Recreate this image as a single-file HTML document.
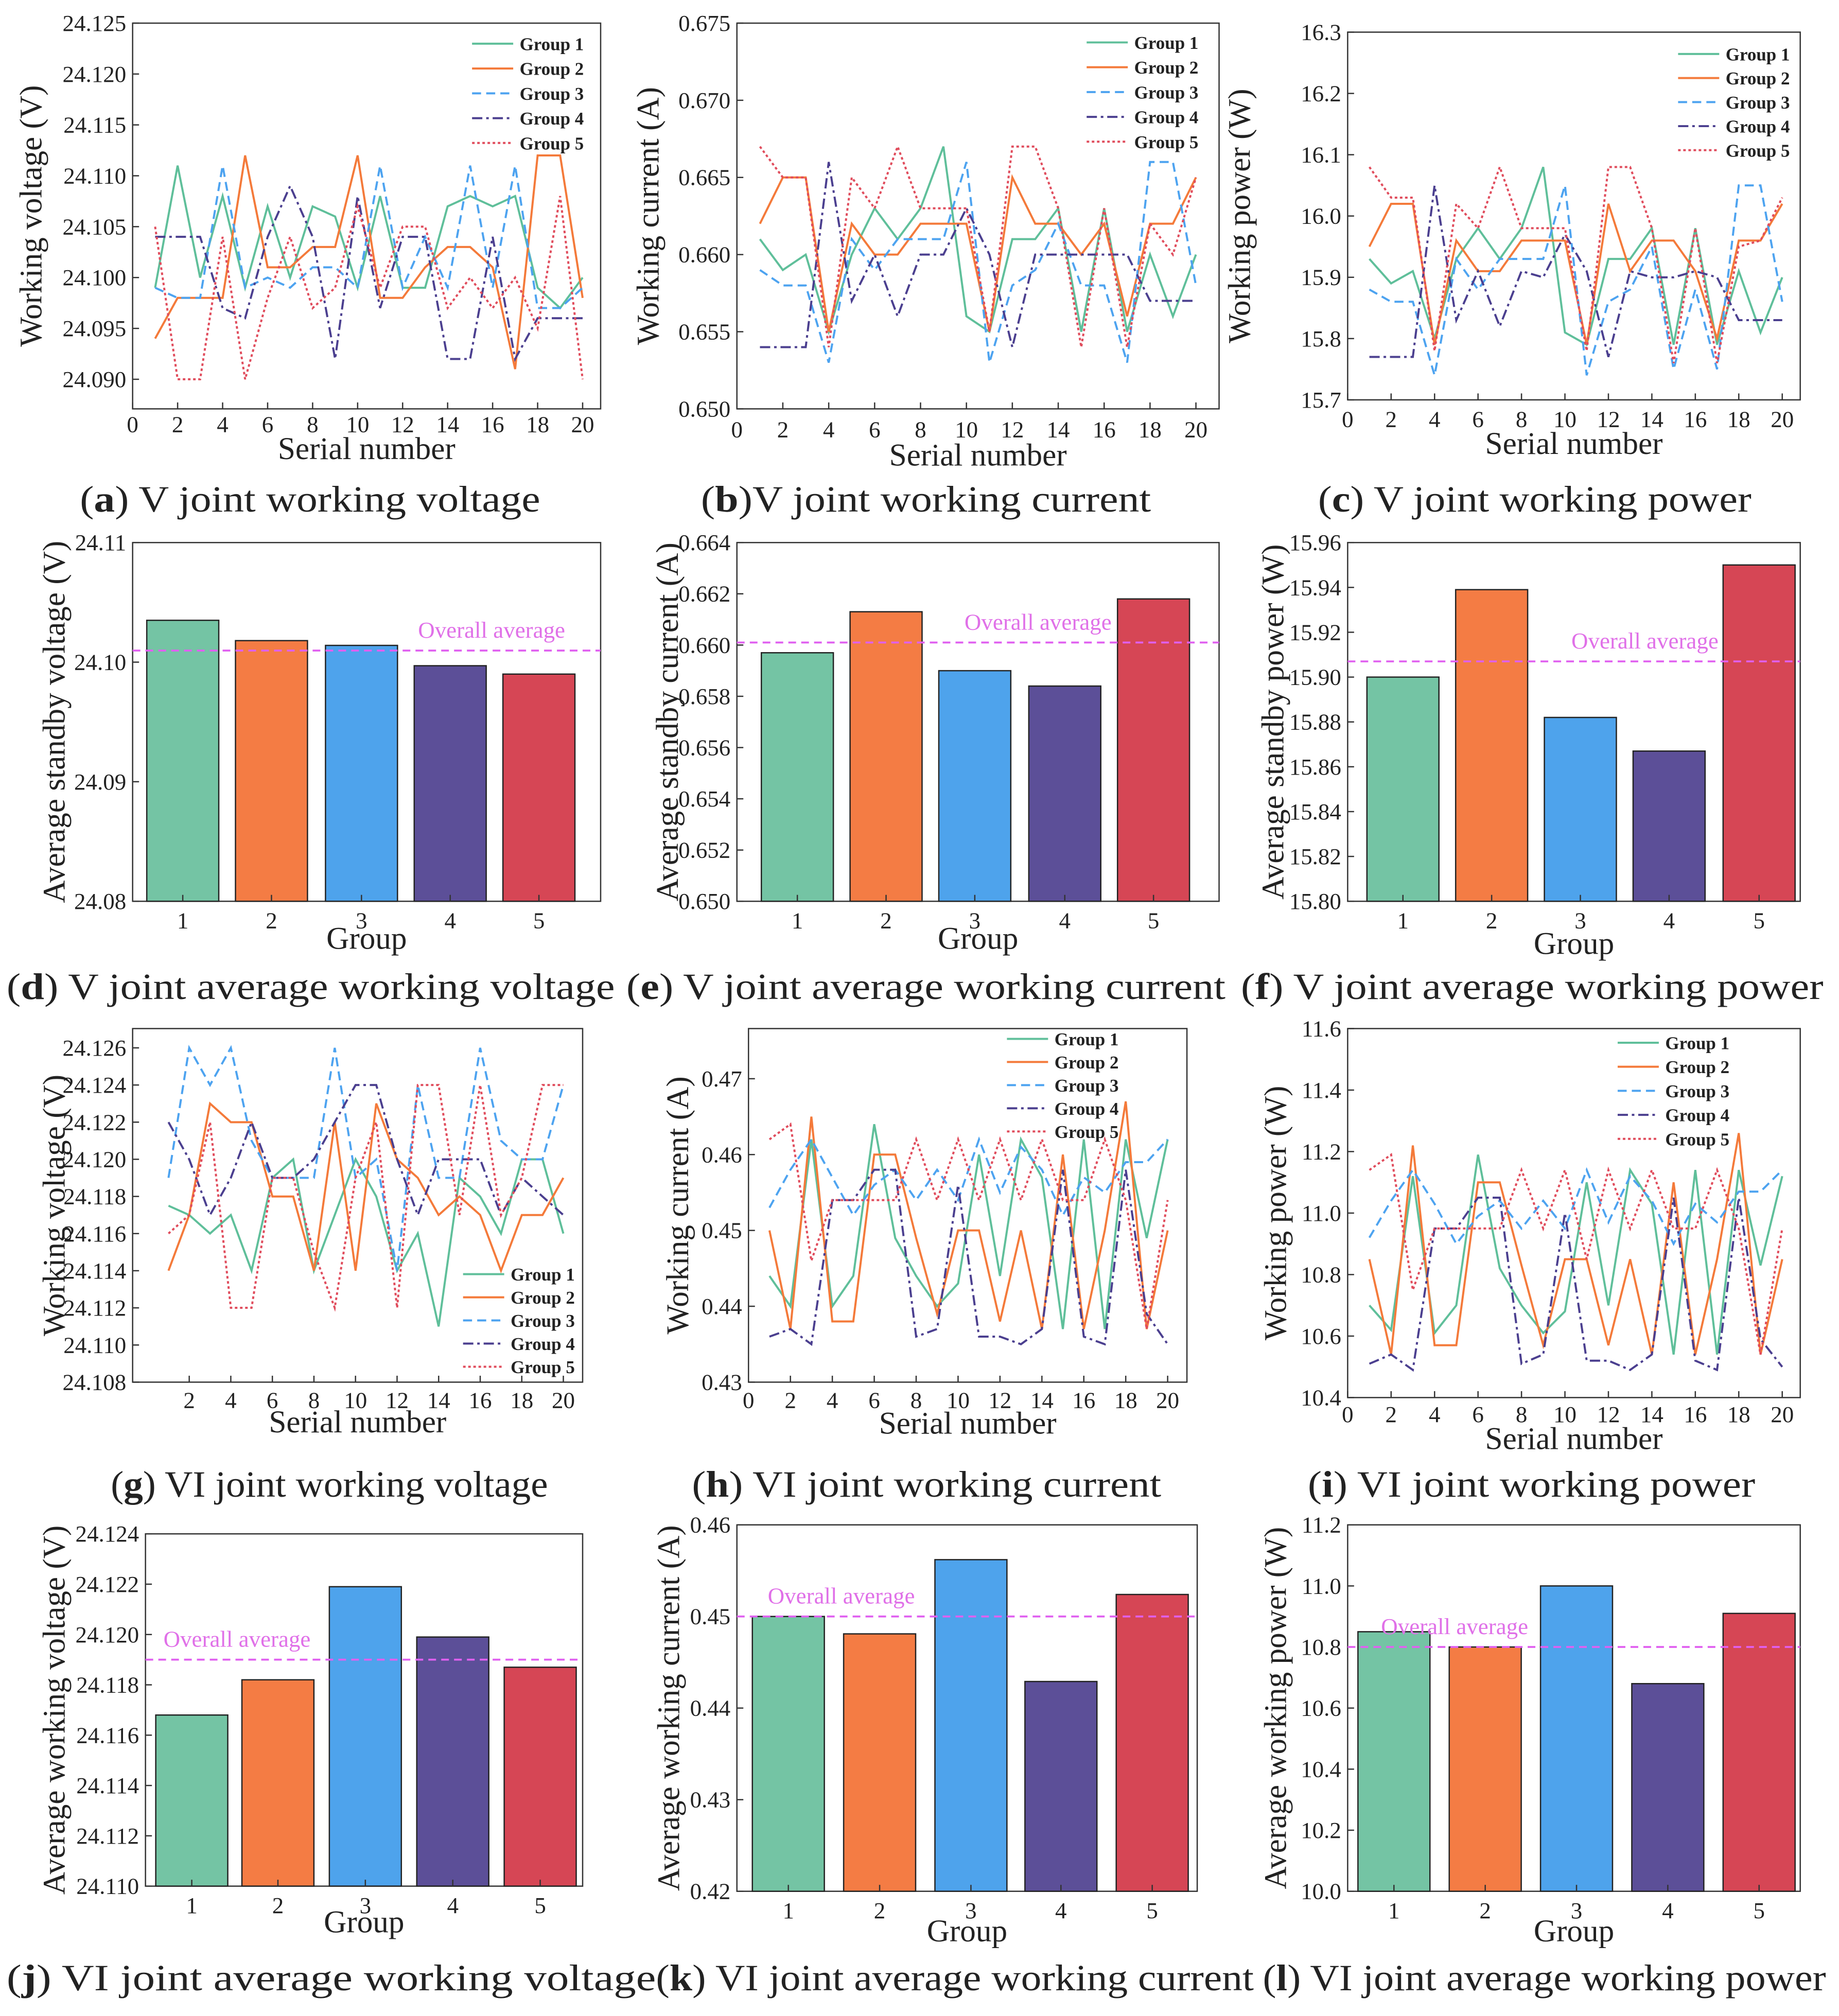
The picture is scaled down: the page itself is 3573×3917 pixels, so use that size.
<!DOCTYPE html>
<html><head><meta charset="utf-8"><style>
html,body{margin:0;padding:0;background:#fff}
svg{display:block}
text{font-family:"Liberation Serif",serif;fill:#222}
</style></head><body>
<svg id="fig" width="3573" height="3917" viewBox="0 0 1430 1568" xmlns="http://www.w3.org/2000/svg"></svg>
<script>
const groups=["Group 1","Group 2","Group 3","Group 4","Group 5"];
const barCats=[1,2,3,4,5];
const serial=[1,2,3,4,5,6,7,8,9,10,11,12,13,14,15,16,17,18,19,20];
// (a) voltage
const aG1=[24.099,24.111,24.100,24.108,24.099,24.107,24.100,24.107,24.106,24.099,24.108,24.099,24.099,24.107,24.108,24.107,24.108,24.099,24.097,24.100];
const aG2=[24.094,24.098,24.098,24.098,24.112,24.101,24.101,24.103,24.103,24.112,24.098,24.098,24.101,24.103,24.103,24.101,24.091,24.112,24.112,24.098];
const aG3=[24.099,24.098,24.098,24.111,24.099,24.100,24.099,24.101,24.101,24.099,24.111,24.099,24.104,24.099,24.111,24.099,24.111,24.097,24.097,24.099];
const aG4=[24.104,24.104,24.104,24.097,24.096,24.104,24.109,24.104,24.092,24.108,24.097,24.104,24.104,24.092,24.092,24.104,24.092,24.096,24.096,24.096];
const aG5=[24.105,24.090,24.090,24.104,24.090,24.098,24.104,24.097,24.099,24.107,24.099,24.105,24.105,24.097,24.100,24.097,24.100,24.095,24.108,24.090];
// (b) current
const bG1=[.661,.659,.660,.655,.660,.663,.661,.663,.667,.656,.655,.661,.661,.663,.655,.663,.655,.660,.656,.660];
const bG2=[.662,.665,.665,.655,.662,.660,.660,.662,.662,.662,.655,.665,.662,.662,.660,.662,.656,.662,.662,.665];
const bG3=[.659,.658,.658,.653,.661,.659,.661,.661,.661,.666,.653,.658,.659,.662,.658,.658,.653,.666,.666,.658];
const bG4=[.654,.654,.654,.666,.657,.660,.656,.660,.660,.663,.660,.654,.660,.660,.660,.660,.660,.657,.657,.657];
const bG5=[.667,.665,.665,.654,.665,.663,.667,.663,.663,.663,.655,.667,.667,.663,.654,.663,.654,.662,.660,.665];
// (c) power
const cG1=[15.93,15.89,15.91,15.80,15.93,15.98,15.93,15.98,16.08,15.81,15.79,15.93,15.93,15.98,15.79,15.98,15.79,15.91,15.81,15.90];
const cG2=[15.95,16.02,16.02,15.79,15.96,15.91,15.91,15.96,15.96,15.96,15.79,16.02,15.91,15.96,15.96,15.91,15.80,15.96,15.96,16.02];
const cG3=[15.88,15.86,15.86,15.74,15.93,15.88,15.93,15.93,15.93,16.05,15.74,15.86,15.88,15.95,15.75,15.88,15.75,16.05,16.05,15.86];
const cG4=[15.77,15.77,15.77,16.05,15.83,15.91,15.82,15.91,15.90,15.97,15.91,15.77,15.91,15.90,15.90,15.91,15.90,15.83,15.83,15.83];
const cG5=[16.08,16.03,16.03,15.78,16.02,15.98,16.08,15.98,15.98,15.98,15.78,16.08,16.08,15.98,15.76,15.98,15.76,15.95,15.96,16.03];
// (d)(e)(f) averages
const dVals=[24.1035,24.1018,24.1014,24.0997,24.0990]; const dAvg=24.10097;
const eVals=[0.6597,0.6613,0.6590,0.6584,0.6618]; const eAvg=0.6601;
const fVals=[15.900,15.939,15.882,15.867,15.950]; const fAvg=15.907;
// (g) VI voltage
const gG1=[24.1175,24.117,24.116,24.117,24.114,24.119,24.120,24.114,24.117,24.120,24.118,24.114,24.116,24.111,24.119,24.118,24.116,24.120,24.120,24.116];
const gG2=[24.114,24.117,24.123,24.122,24.122,24.118,24.118,24.114,24.122,24.114,24.123,24.120,24.119,24.117,24.118,24.117,24.114,24.117,24.117,24.119];
const gG3=[24.119,24.126,24.124,24.126,24.121,24.119,24.119,24.119,24.126,24.119,24.120,24.114,24.124,24.119,24.119,24.126,24.121,24.120,24.120,24.124];
const gG4=[24.122,24.120,24.117,24.119,24.122,24.119,24.119,24.120,24.122,24.124,24.124,24.120,24.117,24.120,24.120,24.120,24.117,24.119,24.118,24.117];
const gG5=[24.116,24.117,24.122,24.112,24.112,24.119,24.119,24.115,24.112,24.119,24.122,24.112,24.124,24.124,24.117,24.124,24.117,24.119,24.124,24.124];
// (h) VI current
const hG1=[.444,.440,.462,.440,.444,.464,.449,.444,.440,.443,.460,.444,.462,.457,.437,.462,.437,.462,.449,.462];
const hG2=[.450,.437,.465,.438,.438,.460,.460,.449,.439,.450,.450,.438,.450,.437,.460,.437,.450,.467,.437,.450];
const hG3=[.453,.458,.462,.457,.452,.456,.458,.454,.458,.454,.462,.455,.461,.458,.452,.457,.455,.459,.459,.462];
const hG4=[.436,.437,.435,.454,.454,.458,.458,.436,.437,.456,.436,.436,.435,.437,.458,.436,.435,.458,.439,.435];
const hG5=[.462,.464,.446,.454,.454,.454,.454,.462,.454,.462,.454,.462,.454,.462,.454,.454,.462,.454,.437,.454];
// (i) VI power
const iG1=[10.70,10.62,11.12,10.61,10.70,11.19,10.82,10.70,10.61,10.68,11.10,10.70,11.14,11.03,10.54,11.14,10.54,11.14,10.83,11.12];
const iG2=[10.85,10.54,11.22,10.57,10.57,11.10,11.10,10.83,10.57,10.85,10.85,10.57,10.85,10.54,11.10,10.54,10.85,11.26,10.54,10.85];
const iG3=[10.92,11.04,11.14,11.03,10.90,10.99,11.04,10.95,11.04,10.95,11.14,10.97,11.12,11.04,10.90,11.03,10.97,11.07,11.07,11.14];
const iG4=[10.51,10.54,10.49,10.95,10.95,11.05,11.05,10.51,10.54,11.00,10.52,10.52,10.49,10.54,11.05,10.52,10.49,11.05,10.59,10.50];
const iG5=[11.14,11.19,10.75,10.95,10.95,10.95,10.95,11.14,10.95,11.14,10.85,11.14,10.95,11.14,10.95,10.95,11.14,10.95,10.54,10.95];
// (j)(k)(l) averages
const jVals=[24.1168,24.1182,24.1219,24.1199,24.1187]; const jAvg=24.1190;
const kVals=[0.4500,0.4481,0.4562,0.4429,0.4524]; const kAvg=0.4500;
const lVals=[10.85,10.80,11.00,10.68,10.91]; const lAvg=10.80;

const NS="http://www.w3.org/2000/svg";
const svg=document.getElementById('fig');
const lineColors=["#5fbf9a","#f47a3a","#4da3f0","#4b3f8f","#e04c5c"];
const dashes=["","","7,4","8,3,2,3","2,2"];
const barColors=["#74c4a4","#f47c44","#4ea3ec","#5c4f98","#d64655"];
function el(tag,attrs,parent){const e=document.createElementNS(NS,tag);for(const k in attrs)e.setAttribute(k,attrs[k]);(parent||svg).appendChild(e);return e;}
function txt(s,attrs,parent){const t=el('text',attrs,parent);t.textContent=s;return t;}
function lin(v,d0,d1,p0,p1){return p0+(v-d0)/(d1-d0)*(p1-p0);}

function axesFrame(g,c){
  el('rect',{x:c.L,y:c.T,width:c.R-c.L,height:c.B-c.T,fill:'none',stroke:'#333','stroke-width':1},g);
  for(let v=c.yt0;v<=c.yt1+1e-9;v+=c.yst){
    const y=lin(v,c.ya,c.yb,c.pya,c.pyb);
    el('line',{x1:c.L,x2:c.L+5,y1:y,y2:y,stroke:'#333'},g);
    const t=txt(v.toFixed(c.dec),{x:c.L-5,y:y+6,'text-anchor':'end','font-size':18},g);
    
    
  }
  const yl=txt(c.ylab,{x:0,y:0,'text-anchor':'middle','font-size':24.5,transform:`translate(${c.ylx},${(c.T+c.B)/2}) rotate(-90)`},g);
  
  
}

function linePanel(name,c,series){
  const g=el('g',{});
  
  
  axesFrame(g,c);
  const xs=v=>lin(v,0,20,c.x0,c.x20);
  for(let v=c.xt0;v<=20;v+=2){
    const x=xs(v);
    el('line',{x1:x,x2:x,y1:c.B,y2:c.B-5,stroke:'#333'},g);
    const t=txt(String(v),{x:x,y:c.xty,'text-anchor':'middle','font-size':18},g);
    
    
  }
  const xl=txt('Serial number',{x:(c.L+c.R)/2,y:c.xly,'text-anchor':'middle','font-size':24.5},g);
  
  
  series.forEach((s,i)=>{
    const pts=s.map((v,k)=>xs(serial[k]).toFixed(1)+','+lin(v,c.ya,c.yb,c.pya,c.pyb).toFixed(1)).join(' ');
    const p=el('polyline',{points:pts,fill:'none',stroke:lineColors[i],'stroke-width':1.6,'stroke-dasharray':dashes[i]},g);
    
    
  });
  groups.forEach((n,i)=>{
    const y=c.lgy+i*c.lgs;
    const l=el('line',{x1:c.lgx,x2:c.lgx+32,y1:y,y2:y,stroke:lineColors[i],'stroke-width':1.6,'stroke-dasharray':dashes[i]},g);
    
    
    const t=txt(n,{x:c.lgx+37,y:y+5,'font-size':14,'font-weight':'bold'},g);
    
    
  });
}

function barPanel(name,c,vals,avg,cx){
  const g=el('g',{});
  
  
  axesFrame(g,c);
  vals.forEach((v,i)=>{
    const x=cx[i];
    const y=lin(v,c.ya,c.yb,c.pya,c.pyb);
    const r=el('rect',{x:x-28,y:y,width:56,height:c.B-y,fill:barColors[i],stroke:'#222','stroke-width':1},g);
    
    
    el('line',{x1:x,x2:x,y1:c.B,y2:c.B-5,stroke:'#333'},g);
    const t=txt(String(barCats[i]),{x:x,y:c.B+21,'text-anchor':'middle','font-size':18},g);
    
    
  });
  const ay=lin(avg,c.ya,c.yb,c.pya,c.pyb);
  const al=el('line',{x1:c.L,x2:c.R,y1:ay,y2:ay,stroke:'#e060f0','stroke-width':1.5,'stroke-dasharray':'6,4'},g);
  
  
  const at=txt('Overall average',{x:c.avx,y:ay-10,'font-size':18,style:'fill:#e070e8'},g);
  
  
  const xl=txt('Group',{x:(c.L+c.R)/2,y:c.xly,'text-anchor':'middle','font-size':24.5},g);
  
  
}

linePanel('panel-a-voltage',{L:103,R:467,T:18,B:318,x0:103,x20:453,ya:24.125,yb:24.090,pya:18,pyb:295,yt0:24.090,yt1:24.125,yst:0.005,dec:3,ylab:'Working voltage (V)',ylx:32,xt0:0,xty:336,xly:357,lgx:367,lgy:34,lgs:19.3},[aG1,aG2,aG3,aG4,aG5]);
linePanel('panel-b-current',{L:573,R:948,T:18,B:318,x0:573,x20:930,ya:0.675,yb:0.650,pya:18,pyb:318,yt0:0.650,yt1:0.675,yst:0.005,dec:3,ylab:'Working current (A)',ylx:512,xt0:0,xty:340,xly:362,lgx:845,lgy:33,lgs:19.3},[bG1,bG2,bG3,bG4,bG5]);
linePanel('panel-c-power',{L:1048,R:1400,T:25,B:311,x0:1048,x20:1386,ya:16.3,yb:15.7,pya:25,pyb:311,yt0:15.7,yt1:16.3,yst:0.1,dec:1,ylab:'Working power (W)',ylx:972,xt0:0,xty:332,xly:353,lgx:1305,lgy:42,lgs:18.7},[cG1,cG2,cG3,cG4,cG5]);

barPanel('panel-d-avg-voltage',{L:103,R:467,T:422,B:701,ya:24.08,yb:24.11,pya:701,pyb:422,yt0:24.08,yt1:24.11,yst:0.01,dec:2,ylab:'Average standby voltage (V)',ylx:50,xly:738,avx:325},dVals,dAvg,[142,211,281,350,419]);
barPanel('panel-e-avg-current',{L:573,R:948,T:422,B:701,ya:0.650,yb:0.664,pya:701,pyb:422,yt0:0.650,yt1:0.664,yst:0.002,dec:3,ylab:'Average standby current (A)',ylx:527,xly:738,avx:750},eVals,eAvg,[620,689,758,828,897]);
barPanel('panel-f-avg-power',{L:1048,R:1400,T:422,B:701,ya:15.80,yb:15.96,pya:701,pyb:422,yt0:15.80,yt1:15.96,yst:0.02,dec:2,ylab:'Average standby power (W)',ylx:998,xly:742,avx:1222},fVals,fAvg,[1091,1160,1229,1298,1368]);

linePanel('panel-g-vi-voltage',{L:103,R:453,T:800,B:1075,x0:114.7,x20:438,ya:24.108,yb:24.126,pya:1075,pyb:815,yt0:24.108,yt1:24.126,yst:0.002,dec:3,ylab:'Working voltage (V)',ylx:50,xt0:2,xty:1095,xly:1114,lgx:360,lgy:991,lgs:18},[gG1,gG2,gG3,gG4,gG5]);
linePanel('panel-h-vi-current',{L:582,R:923,T:800,B:1075,x0:582,x20:908,ya:0.43,yb:0.47,pya:1075,pyb:839,yt0:0.43,yt1:0.47,yst:0.01,dec:2,ylab:'Working current (A)',ylx:535,xt0:0,xty:1095,xly:1115,lgx:783,lgy:808,lgs:18},[hG1,hG2,hG3,hG4,hG5]);
linePanel('panel-i-vi-power',{L:1048,R:1400,T:800,B:1087,x0:1048,x20:1386,ya:10.4,yb:11.6,pya:1087,pyb:800,yt0:10.4,yt1:11.6,yst:0.2,dec:1,ylab:'Working power (W)',ylx:1000,xt0:0,xty:1106,xly:1127,lgx:1258,lgy:811,lgs:18.7},[iG1,iG2,iG3,iG4,iG5]);

barPanel('panel-j-vi-avg-voltage',{L:113,R:453,T:1193,B:1467,ya:24.110,yb:24.124,pya:1467,pyb:1193,yt0:24.110,yt1:24.124,yst:0.002,dec:3,ylab:'Average working voltage (V)',ylx:50,xly:1503,avx:127},jVals,jAvg,[149,216,284,352,420]);
barPanel('panel-k-vi-avg-current',{L:573,R:931,T:1186,B:1471,ya:0.42,yb:0.46,pya:1471,pyb:1186,yt0:0.42,yt1:0.46,yst:0.01,dec:2,ylab:'Average working current (A)',ylx:528,xly:1510,avx:597},kVals,kAvg,[613,684,755,825,896]);
barPanel('panel-l-vi-avg-power',{L:1048,R:1400,T:1186,B:1471,ya:10.0,yb:11.2,pya:1471,pyb:1186,yt0:10.0,yt1:11.2,yst:0.2,dec:1,ylab:'Average working power (W)',ylx:1000,xly:1510,avx:1074},lVals,lAvg,[1084,1155,1226,1297,1368]);

const caps=[
 ['a',' V joint working voltage',62,398,358],['b','V joint working current',545,398,350],['c',' V joint working power',1025,398,337],
 ['d',' V joint average working voltage',5,777,473],['e',' V joint average working current',487,777,466],['f',' V joint average working power',965,777,453],
 ['g',' VI joint working voltage',86,1164,340],['h',' VI joint working current',538,1164,365],['i',' VI joint working power',1017,1164,348],
 ['j',' VI joint average working voltage',5,1548,505],['k',' VI joint average working current',510,1548,465],['l',' VI joint average working power',982,1548,438]];
caps.forEach(c=>{
  const t=el('text',{x:c[2],y:c[3],'font-size':29,textLength:c[4],lengthAdjust:'spacingAndGlyphs'});
  
  
  const s1=el('tspan',{},t);s1.textContent='(';
  const s2=el('tspan',{'font-weight':'bold'},t);s2.textContent=c[0];
  const s3=el('tspan',{},t);s3.textContent=')'+c[1];
});
</script>
</body></html>
